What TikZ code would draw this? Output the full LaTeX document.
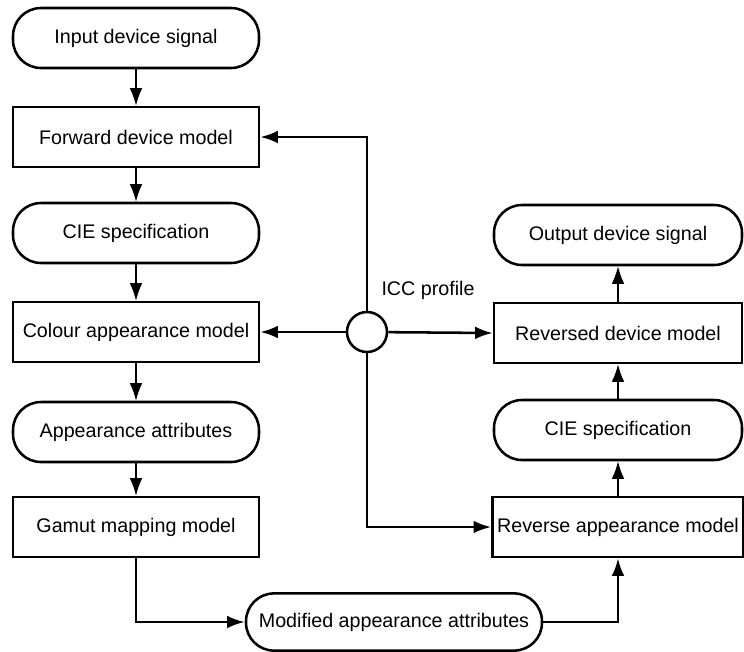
\documentclass[tikz,border=0pt]{standalone}
\usepackage{fontspec}
\setmainfont{Liberation Sans}
\usetikzlibrary{arrows.meta}

\begin{document}
\begin{tikzpicture}[>={Latex[length=12.5pt,width=9pt]}]

\tikzset{
    stage box/.style={
        draw, line width=1.8pt, rectangle,
        minimum width=6.15cm, minimum height=1.5cm,
        font=\fontsize{14}{17}\selectfont, align=center
    },
    data box/.style={
        stage box, rounded corners=0.7cm
    },
    flow/.style={->, line width=1.1pt},
    link/.style={->, line width=1.8pt}
}

% page frame
\useasboundingbox (0,0) rectangle (18.6,-16.275);

% LEFT COLUMN (forward path)
\node[data box] (Input) at (3.4, -0.95) {Input device signal};
\node[stage box] (Forward) at (3.4, -3.425) {Forward device model};
\node[data box] (CieIn) at (3.4, -5.825) {CIE specification};
\node[stage box] (Colour) at (3.4, -8.3) {Colour appearance model};
\node[data box] (Attr) at (3.4, -10.8) {Appearance attributes};
\node[stage box] (Gamut) at (3.4, -13.175) {Gamut mapping model};

% bottom middle
\node[data box, minimum width=7.4cm, minimum height=1.43cm] (Modified) at (9.85, -15.55) {Modified appearance attributes};

% RIGHT COLUMN (reverse path)
\node[data box, minimum width=6.2cm] (Output) at (15.45, -5.875) {Output device signal};
\node[stage box, minimum width=6.2cm] (Reversed) at (15.45, -8.325) {Reversed device model};
\node[data box, minimum width=6.2cm] (CieOut) at (15.45, -10.75) {CIE specification};
\node[stage box, minimum width=6.2cm] (RevApp) at (15.45, -13.175) {Reverse appearance model};

% profile hub
\node[draw, circle, line width=1.8pt, minimum size=1cm, inner sep=0pt] (Icc) at (9.175, -8.3) {};
\node[font=\fontsize{14}{17}\selectfont] (IccLabel) at (10.7, -7.25) {ICC profile};

% --- main flow ---
\draw[flow] (Input) -- (Forward);
\draw[flow] (Forward) -- (CieIn);
\draw[flow] (CieIn) -- (Colour);
\draw[flow] (Colour) -- (Attr);
\draw[flow] (Attr) -- (Gamut);
\draw[link] (Gamut.south) |- (Modified.west);
\draw[link] (Modified.east) -| (RevApp.south);
\draw[flow] (RevApp) -- (CieOut);
\draw[flow] (CieOut) -- (Reversed);
\draw[flow] (Reversed) -- (Output);

% --- profile links ---
\draw[link] (Icc.north) |- (Forward.east);
\draw[link] (Icc) -- (Colour.east);
\draw[link] (Icc) -- (Reversed.west);
\draw[link] (Icc.south) |- (RevApp.west);

\end{tikzpicture}
\end{document}
